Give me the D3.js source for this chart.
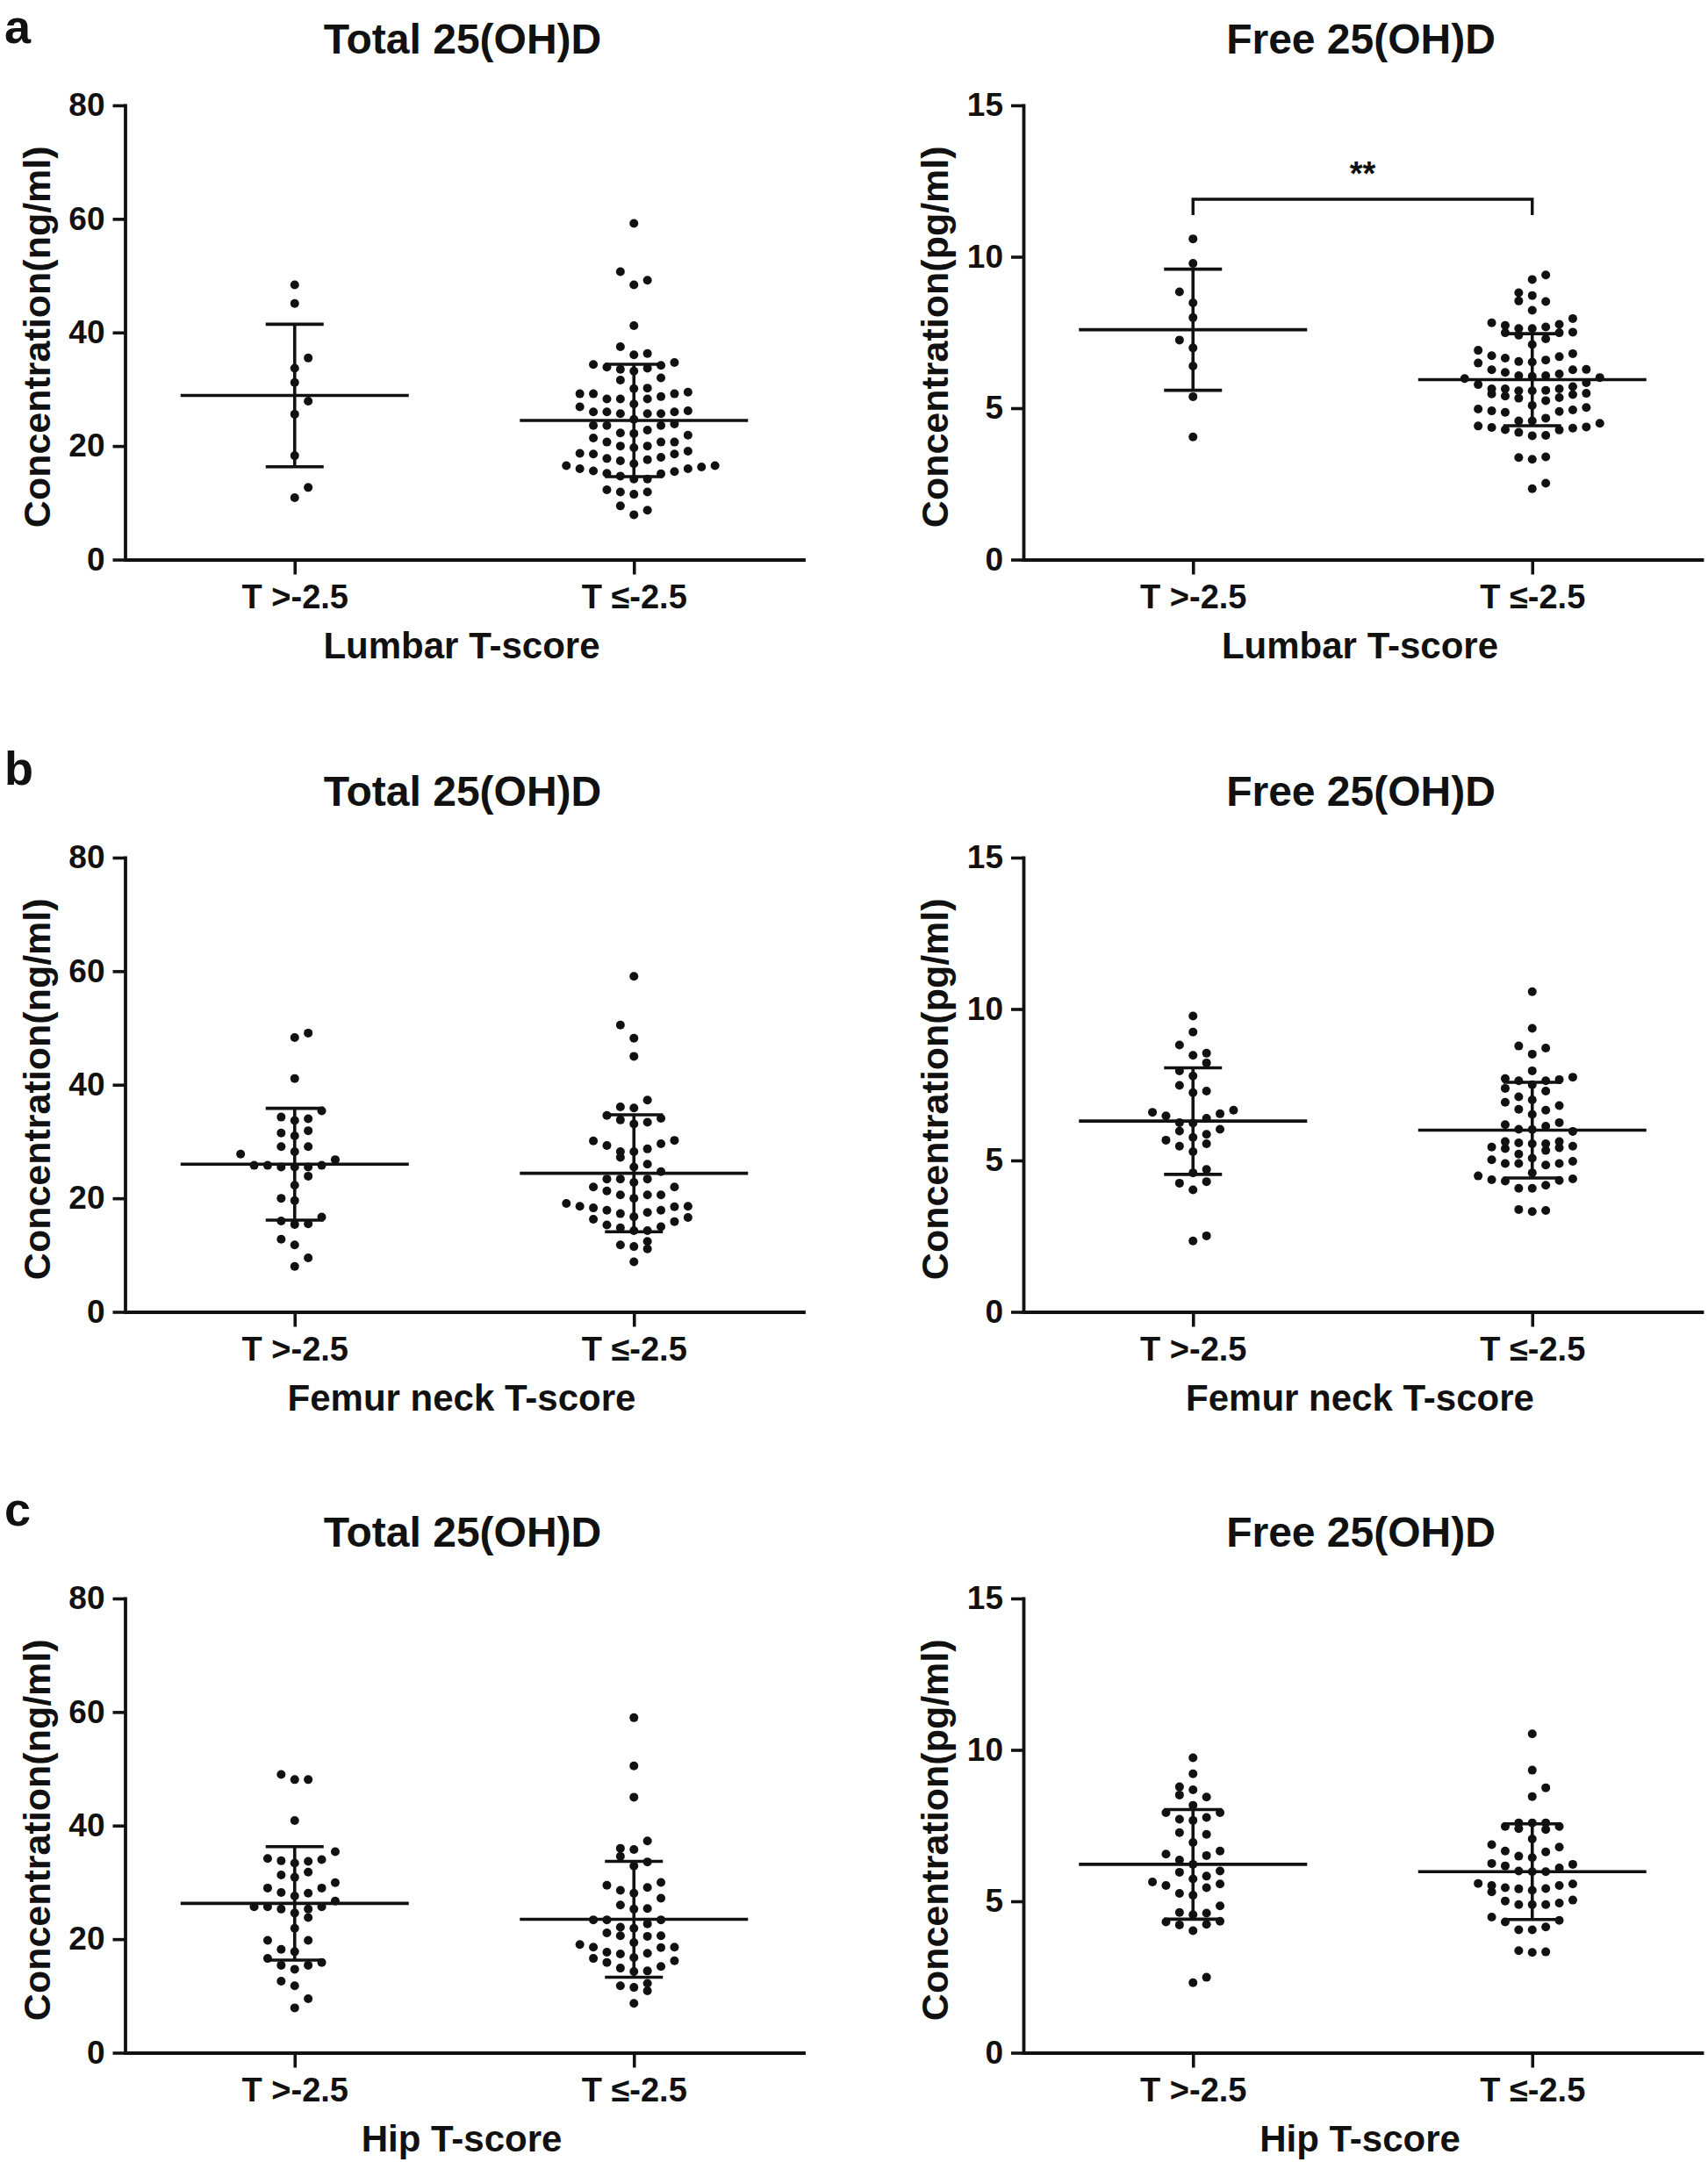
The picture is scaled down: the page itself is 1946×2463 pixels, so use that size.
<!DOCTYPE html>
<html>
<head>
<meta charset="utf-8">
<script src="https://cdn.jsdelivr.net/npm/d3@7"></script>
<style>
  html, body { margin: 0; padding: 0; background: #fff; }
  svg { display: block; }
  text { font-family: "Liberation Sans", Arial, Helvetica, sans-serif; font-weight: bold; fill: #111; }
</style>
</head>
<body>
<script>
// ---------------- data ----------------
const categories = ["T >-2.5", "T \u2264-2.5"];
const totalTicks = [0, 20, 40, 60, 80];
const freeTicks = [0, 5, 10, 15];
const panelLetters = ["a", "b", "c"];
const panelTitles = ["Total 25(OH)D", "Free 25(OH)D"];
const yAxisTitles = ["Concentration(ng/ml)", "Concentration(pg/ml)"];
const xAxisTitles = ["Lumbar T-score", "Femur neck T-score", "Hip T-score"];

// a: Lumbar
const lumbarTotalAbove = [10.9, 12.7, 18.3, 25.6, 27.9, 31.2, 33.7, 35.5, 45.1, 48.4];
const lumbarTotalBelow = [7.9, 8.7, 9.45, 11.5, 11.9, 11.9, 12.3, 14.2, 14.2, 14.7, 15.1, 15.2, 15.5, 15.6, 16.0, 16.0, 16.3, 16.55, 16.55,
  16.9, 17.4, 17.6, 17.8, 18.0, 18.6, 18.6, 18.7, 19.1, 19.7, 20.0, 20.0, 20.7, 20.7, 20.7, 21.4, 21.9,
  22.2, 22.3, 22.8, 23.6, 23.6, 23.6, 23.9, 24.7, 25.7, 25.7, 25.7, 26.0, 26.0, 26.0, 26.2, 26.9,
  27.4, 28.3, 28.3, 28.3, 28.7, 29.2, 29.2, 29.2, 29.5, 30.1, 30.2, 31.6, 32.0,
  33.2, 33.5, 33.7, 33.9, 34.2, 34.35, 34.7, 36.05, 36.3, 37.5, 41.2, 48.4, 49.2, 50.7, 59.2];
const lumbarFreeAbove = [4.05, 5.38, 6.39, 6.99, 7.25, 7.99, 8.48, 8.84, 9.78, 10.59];
const lumbarFreeBelow = [2.34, 2.52, 3.31, 3.37, 3.39,
  4.09, 4.10, 4.20, 4.28, 4.29, 4.34, 4.36, 4.38, 4.41, 4.50,
  4.58, 4.58, 4.67, 4.86, 4.89, 4.91, 4.94, 4.97, 5.02,
  5.09, 5.25, 5.33, 5.35, 5.40, 5.45, 5.47, 5.49,
  5.57, 5.57, 5.59, 5.64, 5.64, 5.64, 5.71, 5.78, 5.84, 5.98, 6.01,
  6.05, 6.07, 6.07, 6.13, 6.18, 6.27, 6.27, 6.28, 6.49,
  6.52, 6.54, 6.59, 6.65, 6.70, 6.73, 6.80, 6.91,
  7.10, 7.29, 7.41, 7.49, 7.49, 7.51,
  7.63, 7.63, 7.68, 7.73, 7.77, 7.82, 7.96,
  8.23, 8.52, 8.54, 8.72, 8.81, 9.25, 9.40];

// b: Femur neck
const femurTotalAbove = [8.0, 9.5, 11.8, 12.8, 15.4, 15.5, 16.0, 16.7, 19.6, 20.0, 22.3, 23.9, 25.5, 25.5, 25.5, 25.8, 25.8, 25.8,
  26.8, 27.8, 28.2, 29.1, 29.1, 31.0, 31.5, 31.9, 33.7, 34.0, 34.3, 35.4, 41.1, 48.3, 49.1];
const femurTotalBelow = [8.8, 11.1, 11.5, 11.8, 12.4, 14.3, 14.3, 14.8, 15.0, 15.3, 15.9, 16.3, 16.62, 16.75, 17.3, 17.5, 17.9, 17.9,
  18.3, 18.5, 18.6, 18.6, 19.1, 20.0, 20.6, 20.6, 20.6, 21.3, 22.0, 22.0, 22.8, 23.4, 23.4, 23.4, 24.7, 25.5, 26.0, 27.2,
  28.2, 28.2, 28.7, 29.3, 29.6, 30.1, 30.2, 33.1, 33.4, 33.8, 34.1, 34.6, 35.9, 36.1, 37.3, 45.0, 48.2, 50.5, 59.1];
const femurFreeAbove = [2.34, 2.51, 4.03, 4.25, 4.30, 4.59, 4.70, 5.29, 5.47, 5.55, 5.67, 5.76, 5.86, 5.97, 6.03, 6.23, 6.25,
  6.39, 6.47, 6.54, 6.59, 6.66, 7.24, 7.29, 7.48, 7.79, 7.96, 8.22, 8.47, 8.54, 8.81, 9.24, 9.77];
const femurFreeBelow = [3.31, 3.35, 3.38, 4.08, 4.08, 4.18, 4.32, 4.34, 4.36, 4.39, 4.49,
  4.59, 4.85, 4.90, 4.90, 4.90, 4.97, 5.02, 5.07, 5.21, 5.33, 5.39, 5.42, 5.44, 5.47,
  5.55, 5.55, 5.58, 5.62, 5.62, 5.96, 6.02, 6.03, 6.13, 6.18, 6.25,
  6.52, 6.66, 6.69, 6.81, 6.92, 7.00, 7.10, 7.29, 7.38,
  7.50, 7.63, 7.63, 7.67, 7.70, 7.75, 7.96, 8.51, 8.71, 8.78, 9.36, 10.57];

// c: Hip
const hipTotalAbove = [7.9, 9.5, 11.8, 12.6, 14.7, 15.4, 15.4, 15.9, 16.6, 17.8, 18.2, 19.8, 19.8, 21.9, 23.8,
  24.6, 25.3, 25.3, 25.7, 25.7, 25.7, 26.7, 27.6, 28.1, 28.2, 29.0, 29.0, 29.95, 30.9, 31.3, 31.8,
  33.4, 33.7, 33.8, 34.0, 34.2, 35.4, 40.9, 48.1, 48.1, 49.0];
const hipTotalBelow = [8.7, 10.9, 11.5, 11.8, 12.2, 14.3, 14.4, 14.9, 15.2, 15.9, 16.2, 16.6, 16.75, 17.4, 17.5, 17.7,
  18.5, 18.6, 18.6, 19.05, 19.4, 20.5, 20.6, 20.6, 21.1, 21.9, 22.1, 22.7, 23.4, 23.4, 23.4,
  25.3, 25.4, 26.0, 27.2, 28.1, 28.6, 29.1, 29.5, 30.0, 32.9, 33.6, 34.6, 35.8, 36.0, 37.3, 45.0, 50.5, 59.0];
const hipFreeAbove = [2.31, 2.49, 4.03, 4.22, 4.24, 4.32, 4.34, 4.56, 4.61, 4.63, 4.85, 5.20, 5.26, 5.45, 5.52, 5.57, 5.64,
  5.74, 5.83, 5.96, 6.00, 6.22, 6.36, 6.51, 6.56, 6.66, 6.94, 7.21, 7.27, 7.67, 7.71, 7.77, 7.93, 7.93,
  8.17, 8.44, 8.51, 8.68, 8.78, 9.21, 9.74];
const hipFreeBelow = [3.31, 3.33, 3.37, 4.06, 4.06, 4.15, 4.32, 4.37, 4.48, 4.89, 4.89, 4.89, 4.94, 5.01, 5.04, 5.31,
  5.36, 5.41, 5.42, 5.45, 5.52, 5.52, 5.57, 5.59, 5.98, 5.98, 6.00, 6.10, 6.17, 6.22, 6.25,
  6.44, 6.49, 6.63, 6.66, 6.79, 6.87, 7.06, 7.37, 7.40, 7.47, 7.47, 7.59, 7.59, 7.59, 8.46, 8.75, 9.33, 10.53];

// mean and SD per group [T>-2.5, T<=-2.5]
const lumbarTotalMean = [28.9, 24.5], lumbarTotalSD = [12.55, 9.9];
const lumbarFreeMean = [7.59, 5.94], lumbarFreeSD = [2.0, 1.52];
const femurTotalMean = [26.0, 24.4], femurTotalSD = [9.85, 10.3];
const femurFreeMean = [6.30, 6.00], femurFreeSD = [1.76, 1.58];
const hipTotalMean = [26.3, 23.5], hipTotalSD = [10.0, 10.2];
const hipFreeMean = [6.22, 5.98], hipFreeSD = [1.81, 1.58];

// significance marks: row, column, level in axis units, label
const significance = [{ row: 0, col: 1, level: 11.9, label: "**" }];

// ---------------- layout ----------------
const W = 1946, H = 2463;
const colX = [142.5, 1166];
const plotW = 773;
const rowTop = [120, 977, 1821];
const plotH = 517.5;
const dotR = 5, dotStep = 15.4, binPx = 15.5;
const meanHalf = 130, capHalf = 33;
const letterY = [49, 894, 1738];

const rows = [
  { total: [lumbarTotalAbove, lumbarTotalBelow], free: [lumbarFreeAbove, lumbarFreeBelow],
    tMean: lumbarTotalMean, tSD: lumbarTotalSD, fMean: lumbarFreeMean, fSD: lumbarFreeSD },
  { total: [femurTotalAbove, femurTotalBelow], free: [femurFreeAbove, femurFreeBelow],
    tMean: femurTotalMean, tSD: femurTotalSD, fMean: femurFreeMean, fSD: femurFreeSD },
  { total: [hipTotalAbove, hipTotalBelow], free: [hipFreeAbove, hipFreeBelow],
    tMean: hipTotalMean, tSD: hipTotalSD, fMean: hipFreeMean, fSD: hipFreeSD }
];

const svg = d3.select("body").append("svg").attr("width", W).attr("height", H);
svg.append("rect").attr("width", W).attr("height", H).attr("fill", "#fff");

// Prism-like column scatter: bins of one dot-step height, centre first, alternating sides
function swarm(values, y) {
  const sorted = values.slice().sort((a, b) => a - b);
  const out = [];
  let k = 0, bin = 0;
  while (k < sorted.length) {
    const y0 = y(sorted[k]);
    const members = [];
    while (k < sorted.length && (y0 - y(sorted[k])) < binPx) { members.push(sorted[k]); k++; }
    const rightFirst = bin % 2 === 0;
    members.forEach((v, j) => {
      let slot = 0;
      if (j > 0) {
        const n = Math.ceil(j / 2);
        const firstOfPair = (j % 2 === 1);
        slot = (firstOfPair === rightFirst) ? n : -n;
      }
      out.push({ v, slot });
    });
    bin++;
  }
  return out;
}

function drawPanel(r, c) {
  const isTotal = c === 0;
  const rowData = rows[r];
  const groups = isTotal ? rowData.total : rowData.free;
  const means = isTotal ? rowData.tMean : rowData.fMean;
  const sds = isTotal ? rowData.tSD : rowData.fSD;
  const ticks = isTotal ? totalTicks : freeTicks;
  const yMax = ticks[ticks.length - 1];

  const g = svg.append("g").attr("transform", `translate(${colX[c]},${rowTop[r]})`);
  const x = d3.scalePoint().domain(categories).range([0, plotW]).padding(0.5);
  const y = d3.scaleLinear().domain([0, yMax]).range([plotH, 0]);

  // dots
  groups.forEach((vals, gi) => {
    const cx = x(categories[gi]);
    g.append("g").selectAll("circle").data(swarm(vals, y)).join("circle")
      .attr("cx", d => cx + d.slot * dotStep)
      .attr("cy", d => y(d.v))
      .attr("r", dotR)
      .attr("fill", "#111");
  });

  // mean and SD
  groups.forEach((vals, gi) => {
    const cx = x(categories[gi]);
    const m = means[gi], s = sds[gi];
    const lg = g.append("g").attr("stroke", "#111").attr("stroke-width", 3.6).attr("fill", "none");
    lg.append("line").attr("x1", cx - meanHalf).attr("x2", cx + meanHalf).attr("y1", y(m)).attr("y2", y(m));
    lg.append("line").attr("x1", cx).attr("x2", cx).attr("y1", y(m + s)).attr("y2", y(m - s));
    lg.append("line").attr("x1", cx - capHalf).attr("x2", cx + capHalf).attr("y1", y(m + s)).attr("y2", y(m + s));
    lg.append("line").attr("x1", cx - capHalf).attr("x2", cx + capHalf).attr("y1", y(m - s)).attr("y2", y(m - s));
  });

  // axes
  const yAxis = g.append("g").call(d3.axisLeft(y).tickValues(ticks).tickSize(14).tickSizeOuter(0).tickPadding(9).tickFormat(d3.format("d")));
  const xAxis = g.append("g").attr("transform", `translate(0,${plotH})`)
    .call(d3.axisBottom(x).tickSize(17).tickSizeOuter(0));
  [yAxis, xAxis].forEach(a => {
    a.select(".domain").attr("stroke", "#111").attr("stroke-width", 3.8).attr("stroke-linecap", "square");
    a.selectAll(".tick line").attr("stroke", "#111").attr("stroke-width", 3.6);
  });
  yAxis.selectAll(".tick text").attr("font-size", 37).attr("fill", "#111")
    .attr("font-family", "Liberation Sans, Arial, sans-serif").attr("font-weight", "bold");
  xAxis.selectAll(".tick text").attr("font-size", 38).attr("fill", "#111")
    .attr("font-family", "Liberation Sans, Arial, sans-serif").attr("font-weight", "bold")
    .attr("y", 55).attr("dy", 0);

  // titles
  g.append("text").attr("x", plotW / 2 - 2).attr("y", -59).attr("text-anchor", "middle")
    .attr("font-size", 48).text(panelTitles[c]);
  g.append("text").attr("x", plotW / 2 - 3).attr("y", plotH + 112).attr("text-anchor", "middle")
    .attr("font-size", 42).text(xAxisTitles[r]);
  g.append("text").attr("transform", `translate(-86,${plotH / 2 + 5}) rotate(-90)`)
    .attr("text-anchor", "middle").attr("font-size", 43).text(yAxisTitles[c]);

  // significance bracket
  significance.filter(s => s.row === r && s.col === c).forEach(s => {
    const x1 = x(categories[0]), x2 = x(categories[1]), yy = y(s.level);
    g.append("path").attr("d", `M${x1},${yy + 18}V${yy}H${x2}V${yy + 18}`)
      .attr("fill", "none").attr("stroke", "#111").attr("stroke-width", 3.4);
    g.append("text").attr("x", (x1 + x2) / 2).attr("y", yy - 16).attr("text-anchor", "middle")
      .attr("font-size", 38).text(s.label);
  });
}

rows.forEach((_, r) => { drawPanel(r, 0); drawPanel(r, 1); });

// panel letters
panelLetters.forEach((L, r) => {
  svg.append("text").attr("x", 5).attr("y", letterY[r]).attr("font-size", 54).text(L);
});
</script>
</body>
</html>
